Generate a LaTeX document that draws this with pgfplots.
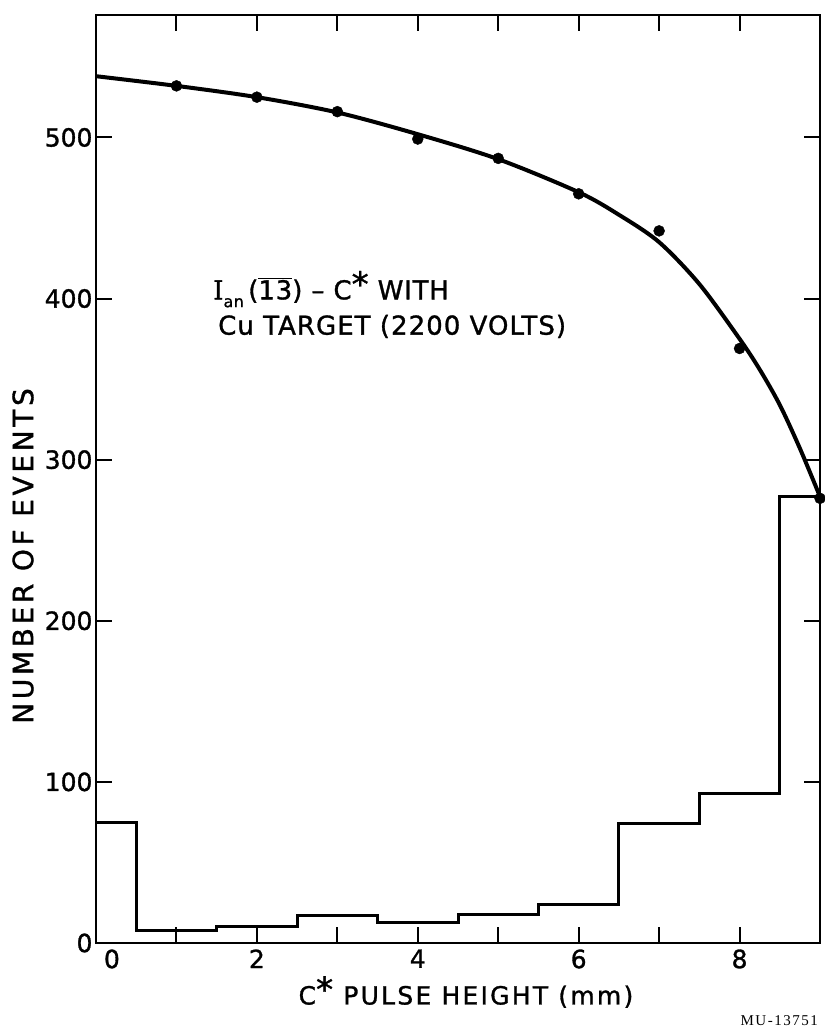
\documentclass[border=0pt]{standalone}
\usepackage{fontspec}
\usepackage{pgfplots}
\pgfplotsset{compat=1.18}
\setmainfont{DejaVu Sans}
\newfontfamily\tickf[FakeBold=1.2]{DejaVu Sans}
\newfontfamily\letx[LetterSpace=9,FakeBold=1.2]{DejaVu Sans}
\newfontfamily\lety[LetterSpace=13,FakeBold=1.2]{DejaVu Sans}
\newfontfamily\letn[LetterSpace=3,FakeBold=1.2]{DejaVu Sans}
\newfontfamily\letm[LetterSpace=4,FakeBold=1.2]{DejaVu Sans}
\newfontfamily\serI[FakeBold=1.2]{DejaVu Serif}
\newfontfamily\ser[LetterSpace=10]{Liberation Serif}

\pgfplotstableread{
x y
0 75
0.5 8
1.5 10
2.5 17
3.5 13
4.5 18
5.5 24
6.5 74
7.5 93
8.5 277
9 277
}\hist

\pgfplotstableread{
x y
1 532
2 525
3 516
4 499
5 487
6 465
7 442
8 369
9 276
}\pts

\pgfplotstableread{
x y
0 538
1 532
2 525
3 515.5
4 502
5 486.5
6 466
6.5 452
7 435
7.5 409
8 375
8.25 356
8.5 334
8.75 307
9 277
}\fit

\begin{document}
\begin{tikzpicture}
\begin{axis}[
  at={(0pt,0pt)}, anchor=south west,
  width=724pt, height=928pt, scale only axis,
  xmin=0, xmax=9, ymin=0, ymax=576,
  xtick={0,2,4,6,8},
  xticklabels={\hphantom{00}0,2,4,6,8},
  minor xtick={1,3,5,7},
  ytick={0,100,...,500},
  tick align=inside,
  major tick length=16pt, minor tick length=16pt,
  every tick/.style={line width=2pt, black},
  axis line style={line width=2pt},
  ticklabel style={font=\tickf\fontsize{25}{25}\selectfont},
  /pgf/number format/assume math mode=true,
  xticklabel style={yshift=-3pt},
  clip=false,
]
\addplot[const plot, line width=3pt, black] table[x=x,y=y] {\hist};
\addplot[smooth, line width=4pt, black] table[x=x,y=y] {\fit};
\addplot[only marks, mark=*, mark size=5.5pt, black] table[x=x,y=y] {\pts};

\node[rotate=90, font=\lety\fontsize{28}{28}\selectfont] at ([xshift=-73pt]rel axis cs:0,0.417) {NUMBER OF EVENTS};
\node[font=\letx\fontsize{25}{25}\selectfont] at ([yshift=-49pt]rel axis cs:0.511,0) {C\raisebox{0.12em}{\fontsize{34}{34}\selectfont *} PULSE HEIGHT (mm)};

\node[anchor=base west, inner sep=0pt, font=\letn\fontsize{26}{26}\selectfont] at (axis cs:1.455,399.5)
  {{\serI I}\raisebox{-0.3em}{\fontsize{16}{16}\selectfont an}\,($\overline{\hbox{13}}$) – C\raisebox{0.12em}{\fontsize{34}{34}\selectfont *} WITH};
\node[anchor=base west, inner sep=0pt, font=\letm\fontsize{26}{26}\selectfont] at (axis cs:1.517,377.6)
  {Cu TARGET (2200 VOLTS)};

\node[anchor=base east, inner sep=0pt, font=\ser\fontsize{15}{15}\selectfont] at ([xshift=-2pt,yshift=-82pt]rel axis cs:1,0) {MU-13751};
\end{axis}
\pgfresetboundingbox
\useasboundingbox (-96pt,-84pt) rectangle (728pt,943pt);
\end{tikzpicture}
\end{document}
